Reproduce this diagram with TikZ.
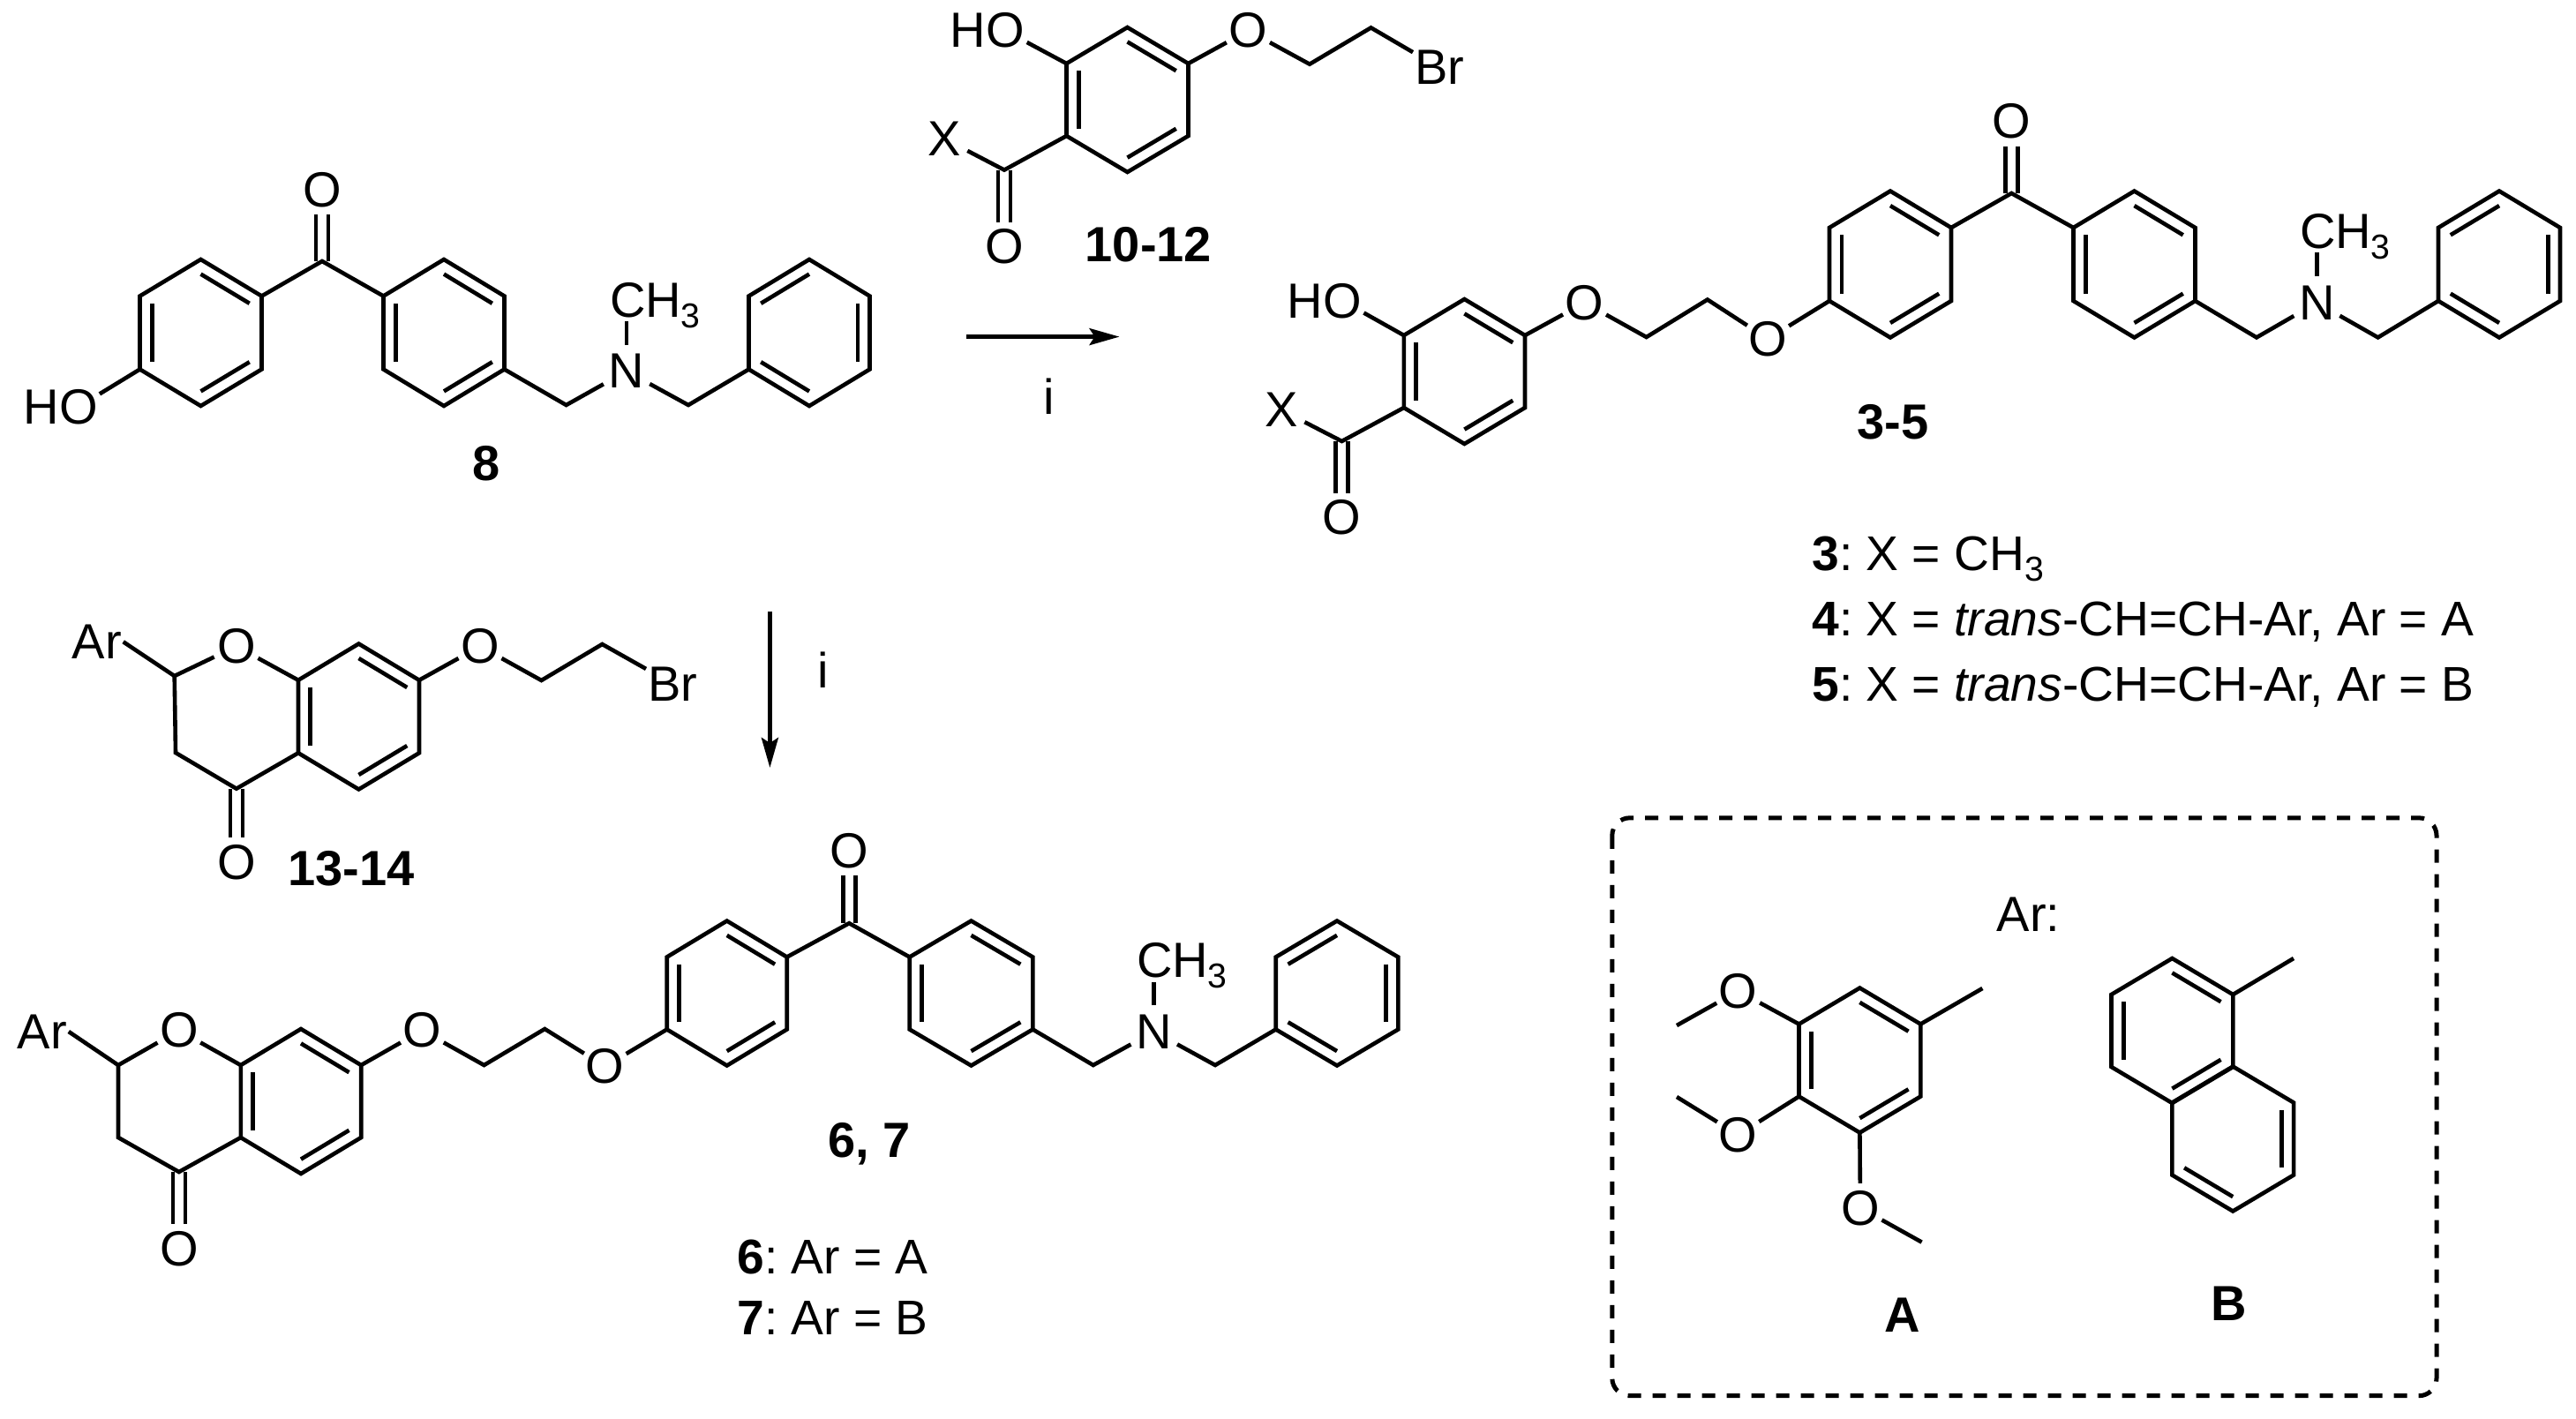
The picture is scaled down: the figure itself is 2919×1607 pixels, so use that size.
\documentclass[tikz,border=0pt]{standalone}
\usepackage{fontspec}
\setmainfont{Liberation Sans}
\usetikzlibrary{calc, arrows.meta}
\frenchspacing
\tikzset{every node/.style={font=\fontsize{28}{32}\selectfont},
atom/.style={circle, inner sep=-1pt, outer sep=0pt, minimum size=28pt}, % Atom label, bonds stop at its rim
atomwide/.style={atom, minimum size=30pt}, % N and X sit a little further from their bonds
group/.style={inner sep=1pt, outer sep=0pt}, % Ar and Br
methyl/.style={anchor=base west, inner sep=0pt, outer sep=0pt},
textline/.style={anchor=base west, inner sep=0pt, font=\fontsize{27.6}{32}\selectfont},
dbl/.style={double, double distance=4.7pt}, % C=O bond
dashbox/.style={line width=2.5pt, rounded corners=10pt, dash pattern=on 7.5pt off 6.5pt},
>={Stealth[length=17pt, width=9.5pt, inset=3pt]}}
\newcommand{\subthree}{\raisebox{-6pt}{\fontsize{19.6}{20}\selectfont 3}}
% Six-membered ring: name, centre x, centre y, half width, half height, inner bonds
\newcommand{\benz}[6]{%
  \coordinate (#1c) at (#2,#3);
  \coordinate (#11) at (#2,#3-#5);
  \coordinate (#12) at (#2+#4,#3-#5/2);
  \coordinate (#13) at (#2+#4,#3+#5/2);
  \coordinate (#14) at (#2,#3+#5);
  \coordinate (#15) at (#2-#4,#3+#5/2);
  \coordinate (#16) at (#2-#4,#3-#5/2);
  \draw (#11) -- (#12) -- (#13) -- (#14) -- (#15) -- (#16) -- cycle;
  \foreach \p/\q in {#6} \draw ($(#1\p)!.2!(#1c)$) -- ($(#1\q)!.2!(#1c)$);
}
\begin{document}
\begin{tikzpicture}[x=.5pt, y=-.5pt, line width=2.3pt]
    \useasboundingbox (0,0) rectangle (2919,1607);

    % compound 8
    \benz{a}{227.5}{377}{69}{83}{1/2,3/4,5/6}
    \benz{b}{503}{377}{68.5}{83}{1/2,3/4,5/6}
    \benz{c}{917}{377}{68.5}{83}{6/1,2/3,4/5}
    \node[atom] (aO) at (365,215) {O};
    \coordinate (aC) at (365,296);
    \draw[dbl] (aC) -- (aO);
    \draw (a2) -- (aC) -- (b6);
    \node[atom] (aOH) at (89,461) {\llap{H}O};
    \draw (a5) -- (aOH);
    \node[atomwide] (aN) at (710,420.6) {N};
    \coordinate (aM1) at (641.6,459);
    \coordinate (aM2) at (780,459);
    \draw (b3) -- (aM1) -- (aN);
    \draw (aN) -- (aM2) -- (c5);
    \node[methyl] (aMe) at (691,359) {CH\subthree};
    \draw[shorten >=-3.5pt] (aN) -- (aN |- aMe.south);
    \node (l8) at (550.6,525) {\textbf{8}};

    % compound 10-12
    \benz{d}{1277.5}{113}{69}{82}{1/2,3/4,5/6}
    \node[atom] (dOH) at (1139,34.7) {\llap{H}O};
    \draw (d6) -- (dOH);
    \node[atom] (dO) at (1414.4,34.7) {O};
    \coordinate (dM1) at (1484,72.7);
    \coordinate (dM2) at (1553.5,31.4);
    \node[group] (dBr) at (1631,76.7) {Br};
    \draw (d2) -- (dO);
    \draw (dO) -- (dM1) -- (dM2) -- (dBr);
    \node[atom] (dCO) at (1138,279.6) {O};
    \coordinate (dC) at (1138,192.6);
    \node[atomwide] (dX) at (1069.7,157) {X};
    \draw[dbl] (dC) -- (dCO);
    \draw (d5) -- (dC) -- (dX);
    \node (l10) at (1301.4,277.6) {\textbf{10-12}};

    % first step
    \coordinate (stepa) at (1095.4,381.6);
    \coordinate (enda) at (1268.5,381.6);
    \draw[->] (stepa) -- (enda);
    \node (ia) at (1189,449) {i};

    % compounds 3-5
    \benz{e}{1659.4}{421}{68.6}{82}{1/2,3/4,5/6}
    \benz{f}{2142}{299.5}{69}{83}{1/2,3/4,5/6}
    \benz{g}{2418.5}{299.5}{69}{83}{1/2,3/4,5/6}
    \benz{h}{2832}{299.5}{69}{83}{6/1,2/3,4/5}
    \node[atom] (eOH) at (1521,340.8) {\llap{H}O};
    \draw (e6) -- (eOH);
    \node[atom] (eCO) at (1520.5,586.5) {O};
    \coordinate (eC) at (1520.5,500);
    \node[atomwide] (eX) at (1451.7,464.5) {X};
    \draw[dbl] (eC) -- (eCO);
    \draw (e5) -- (eC) -- (eX);
    \node[atom] (eO1) at (1795.6,343) {O};
    \coordinate (eM1) at (1865.6,382);
    \coordinate (eM2) at (1934.8,339.5);
    \node[atom] (eO2) at (2003.3,384) {O};
    \draw (e2) -- (eO1);
    \draw (eO1) -- (eM1) -- (eM2) -- (eO2);
    \draw (eO2) -- (f5);
    \node[atom] (fO) at (2279.3,137.6) {O};
    \coordinate (fC) at (2279.3,219);
    \draw[dbl] (fC) -- (fO);
    \draw (f2) -- (fC) -- (g6);
    \node[atomwide] (gN) at (2625.3,343) {N};
    \coordinate (gM1) at (2557,382.4);
    \coordinate (gM2) at (2694.6,382.4);
    \draw (g3) -- (gM1) -- (gN);
    \draw (gN) -- (gM2) -- (h5);
    \node[methyl] (gMe) at (2606,281) {CH\subthree};
    \draw[shorten >=-3.5pt] (gN) -- (gN |- gMe.south);
    \node (l3) at (2144.8,478.5) {\textbf{3-5}};
    \node[textline] (t3) at (2051,646.7) {\textbf{3}: X = CH\subthree};
    \node[textline] (t4) at (2051,720.7) {\textbf{4}: X = \textit{trans}-CH=CH-Ar, Ar = A};
    \node[textline] (t5) at (2051,794) {\textbf{5}: X = \textit{trans}-CH=CH-Ar, Ar = B};

    % second step
    \coordinate (stepb) at (872.4,693);
    \coordinate (endb) at (872.4,870);
    \draw[->] (stepb) -- (endb);
    \node (ib) at (933,759.5) {i};

    % compounds 13-14
    \benz{j}{406.5}{812}{68.5}{82.5}{1/2,3/4,5/6}
    \node[atom] (jO) at (267.9,732.4) {O};
    \coordinate (jC) at (197.7,766);
    \coordinate (jM) at (199,853);
    \coordinate (jK) at (267.9,893.7);
    \node[group] (jAr) at (109.7,727.3) {Ar};
    \node[atom] (jCO) at (267.9,977) {O};
    \draw[dbl] (jK) -- (jCO);
    \draw (j6) -- (jO);
    \draw (jO) -- (jC) -- (jM) -- (jK) -- (j5);
    \draw (jC) -- (jAr.east);
    \node[atom] (jO2) at (544,732.4) {O};
    \coordinate (jM1) at (613.5,771);
    \coordinate (jM2) at (682.4,730);
    \node[group] (jBr) at (762,774.8) {Br};
    \draw (j2) -- (jO2);
    \draw (jO2) -- (jM1) -- (jM2) -- (jBr);
    \node (l13) at (398,984) {\textbf{13-14}};

    % compounds 6, 7
    \benz{k}{341}{1248}{68.2}{82}{1/2,3/4,5/6}
    \benz{m}{823.7}{1125.5}{68}{82}{1/2,3/4,5/6}
    \benz{n}{1100.5}{1125.5}{69.8}{82}{1/2,3/4,5/6}
    \benz{p}{1515}{1125.5}{69.3}{82}{6/1,2/3,4/5}
    \node[atom] (kO) at (202.8,1167.7) {O};
    \coordinate (kC) at (134,1207);
    \coordinate (kM) at (134,1289);
    \coordinate (kK) at (202.8,1328);
    \node[group] (kAr) at (47.8,1169) {Ar};
    \node[atom] (kCO) at (202.8,1415) {O};
    \draw[dbl] (kK) -- (kCO);
    \draw (k6) -- (kO);
    \draw (kO) -- (kC) -- (kM) -- (kK) -- (k5);
    \draw (kC) -- (kAr.east);
    \node[atom] (kO1) at (478.3,1167.7) {O};
    \coordinate (kM1) at (548.5,1207);
    \coordinate (kM2) at (617.3,1166);
    \node[atom] (kO2) at (685.6,1208.5) {O};
    \draw (k2) -- (kO1);
    \draw (kO1) -- (kM1) -- (kM2) -- (kO2);
    \draw (kO2) -- (m5);
    \node[atom] (mO) at (962.2,964.3) {O};
    \coordinate (mC) at (962.2,1046.2);
    \draw[dbl] (mC) -- (mO);
    \draw (m2) -- (mC) -- (n6);
    \node[atomwide] (nN) at (1307.7,1169) {N};
    \coordinate (nM1) at (1238.8,1207);
    \coordinate (nM2) at (1377,1207);
    \draw (n3) -- (nM1) -- (nN);
    \draw (nN) -- (nM2) -- (p5);
    \node[methyl] (nMe) at (1288,1107.5) {CH\subthree};
    \draw[shorten >=-3.5pt] (nN) -- (nN |- nMe.south);
    \node (l6) at (985,1296) {\textbf{6, 7}};
    \node[textline] (t6) at (833,1443) {\textbf{6}: Ar = A};
    \node[textline] (t7) at (833,1512) {\textbf{7}: Ar = B};

    % Ar box
    \draw[dashbox] (1826.8,926.8) rectangle (2761,1581.7);
    \node (ar) at (2298.7,1036) {Ar:};
    \benz{q}{2107.4}{1201.5}{68.9}{82}{1/2,3/4,5/6}
    \coordinate (qS) at (2246.4,1120);
    \draw (q2) -- (qS);
    \node[atom] (qO1) at (1969.6,1123) {O};
    \coordinate (qM1) at (1900,1162);
    \draw (q6) -- (qO1) -- (qM1);
    \node[atom] (qO2) at (1969.6,1286) {O};
    \coordinate (qM2) at (1900,1243);
    \draw (q5) -- (qO2) -- (qM2);
    \node[atom] (qO3) at (2108,1368.8) {O};
    \coordinate (qM3) at (2177.6,1407.6);
    \draw (q4) -- (qO3) -- (qM3);
    \node (lA) at (2155.9,1490) {\textbf{A}};
    \benz{r}{2461.4}{1168}{68.9}{82}{1/2,3/4,5/6}
    \benz{u}{2530.2}{1290.5}{68.9}{82}{2/3,4/5}
    \coordinate (rS) at (2599,1086);
    \draw (r2) -- (rS);
    \node (lB) at (2525.8,1476.8) {\textbf{B}};
\end{tikzpicture}
\end{document}
